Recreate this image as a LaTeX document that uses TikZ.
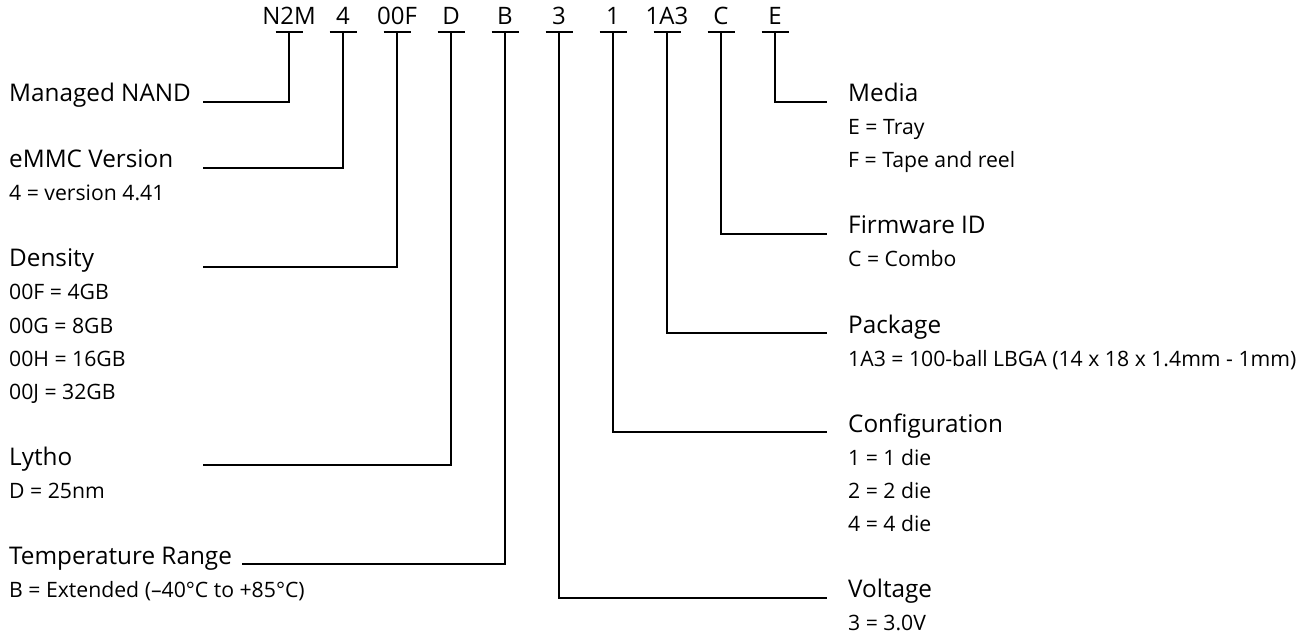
\documentclass[tikz,border=0pt]{standalone}
\usepackage{fontspec}
\setmainfont{Open Sans}
\begin{document}
\begin{tikzpicture}[x=1pt,y=-1pt,
  code/.style={anchor=base,inner sep=0pt,font=\fontsize{24}{28}\selectfont},
  head/.style={anchor=base west,inner sep=0pt,font=\fontsize{24.3}{28}\selectfont},
  sub/.style={anchor=base west,inner sep=0pt,font=\fontsize{21.2}{24}\selectfont},
  wire/.style={line width=1.2pt,black},
  bar/.style={line width=1.2pt,black}]
\useasboundingbox (0,0) rectangle (1306,636);
% part number codes
\foreach \n/\t [count=\i from 0] in {c1/N2M,c2/4,c3/00F,c4/D,c5/B,c6/3,c7/1,c8/1A3,c9/C,c10/E}{
  \node[code] (\n) at ({289+54*\i},25) {\t};
  \coordinate (\n t) at ({289+54*\i},32);
  \draw[bar] ({289+54*\i-13.5},32) -- ({289+54*\i+13.5},32);
}
% left labels
\node[head] (managed) at (9,102) {Managed NAND};
\node[head] (emmc) at (9,168) {eMMC Version};
\node[sub] (emmcs) at (9,201) {4 = version 4.41};
\node[head] (density) at (9,267) {Density};
\node[sub] (d1) at (9,300) {00F = 4GB};
\node[sub] (d2) at (9,333) {00G = 8GB};
\node[sub] (d3) at (9,366) {00H = 16GB};
\node[sub] (d4) at (9,399) {00J = 32GB};
\node[head] (lytho) at (9,465) {Lytho};
\node[sub] (lythos) at (9,498) {D = 25nm};
\node[head] (temp) at (9,564) {Temperature Range};
\node[sub] (temps) at (9,597) {B = Extended (\textendash40°C to +85°C)};
% right labels
\node[head] (media) at (848,102) {Media};
\node[sub] (m1) at (848,135) {E = Tray};
\node[sub] (m2) at (848,168) {F = Tape and reel};
\node[head] (fw) at (848,234) {Firmware ID};
\node[sub] (fws) at (848,267) {C = Combo};
\node[head] (pkg) at (848,333) {Package};
\node[sub] (pkgs) at (848,366) {1A3 = 100-ball LBGA (14 x 18 x 1.4mm - 1mm)};
\node[head] (cfg) at (848,432) {Configuration};
\node[sub] (cfg1) at (848,465) {1 = 1 die};
\node[sub] (cfg2) at (848,498) {2 = 2 die};
\node[sub] (cfg3) at (848,531) {4 = 4 die};
\node[head] (volt) at (848,597) {Voltage};
\node[sub] (volts) at (848,630) {3 = 3.0V};
% line ends
\coordinate (lm) at (203,102);
\coordinate (le) at (203,168);
\coordinate (ld) at (203,267);
\coordinate (ll) at (203,465);
\coordinate (lt) at (242,564);
\coordinate (rv) at (827,598);
\coordinate (rc) at (827,432);
\coordinate (rp) at (827,333);
\coordinate (rf) at (827,234);
\coordinate (rm) at (827,102);
% connectors
\draw[wire] (c1t) |- (lm);
\draw[wire] (c2t) |- (le);
\draw[wire] (c3t) |- (ld);
\draw[wire] (c4t) |- (ll);
\draw[wire] (c5t) |- (lt);
\draw[wire] (c6t) |- (rv);
\draw[wire] (c7t) |- (rc);
\draw[wire] (c8t) |- (rp);
\draw[wire] (c9t) |- (rf);
\draw[wire] (c10t) |- (rm);
\end{tikzpicture}
\end{document}
